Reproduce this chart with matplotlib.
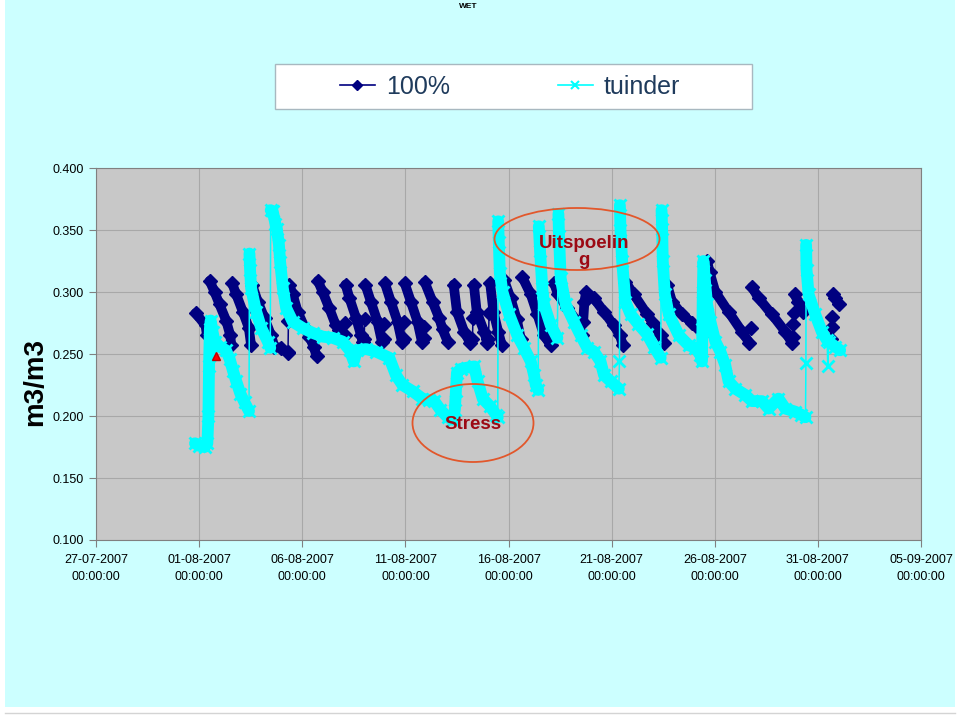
import numpy as np
import pandas as pd
import matplotlib
matplotlib.use("Agg")
import matplotlib.pyplot as plt
from matplotlib.patches import Ellipse, Rectangle
from matplotlib.lines import Line2D
from matplotlib.ticker import FormatStrFormatter
from matplotlib import font_manager

# time as fractional day of August 2007 (1.0 = 01-08-2007 00:00), values in m3/m3
# *_runlen: points per stretch, *_dense: 1 = densely logged stretch, 0 = sparse readings
navy_day = [
    0.83, 1.31, 1.38,
    1.51, 1.75, 1.99, 2.31, 2.51, 2.56,
    2.60, 2.80, 3.12, 3.41, 3.52,
    3.57, 3.85, 4.17, 4.49, 4.65, 4.97, 5.30,
    5.31, 5.33,
    5.36, 5.54, 5.78, 6.10, 6.35, 6.55, 6.70,
    6.76, 6.99, 7.31, 7.63, 7.80,
    8.05, 8.07,
    8.10, 8.29, 8.61, 8.85, 8.93,
    9.00, 9.03,
    9.06, 9.33, 9.65, 9.86,
    9.95, 9.98,
    10.01, 10.30, 10.62, 10.83,
    10.91, 10.94,
    10.97, 11.27, 11.59, 11.80,
    11.88, 11.91,
    11.94, 12.32, 12.64, 12.80, 13.05,
    13.34, 13.50, 13.85, 14.14,
    14.25, 14.28,
    14.32, 14.46, 14.82, 14.98,
    15.03, 15.06,
    15.11, 15.27, 15.50, 15.68,
    15.78, 16.10, 16.40, 16.60,
    16.67, 17.08, 17.40, 17.72, 18.05,
    18.21, 18.40, 18.85, 19.34, 19.58,
    19.62, 19.68, 19.76, 20.14, 20.63, 21.11, 21.40, 21.55,
    21.67, 22.08, 22.72, 23.00, 23.37, 23.53,
    23.69, 23.93, 24.42, 24.90, 25.14, 25.47,
    25.63, 25.75, 26.03, 26.67, 27.32, 27.68,
    27.74,
    27.80, 28.13, 28.77, 29.42, 29.74,
    29.78, 29.80, 29.82,
    29.87, 30.05, 30.30,
    31.66, 31.68, 31.70,
    31.72, 31.85, 32.00,
]
navy_val = [
    0.283, 0.273, 0.265,
    0.309, 0.300, 0.290, 0.277, 0.265, 0.257,
    0.307, 0.298, 0.284, 0.271, 0.257,
    0.306, 0.292, 0.279, 0.265, 0.256, 0.255, 0.251,
    0.252, 0.277,
    0.306, 0.298, 0.284, 0.272, 0.264, 0.256, 0.248,
    0.309, 0.300, 0.287, 0.273, 0.269,
    0.265, 0.275,
    0.306, 0.295, 0.279, 0.265, 0.260,
    0.262, 0.278,
    0.306, 0.292, 0.276, 0.260,
    0.262, 0.274,
    0.307, 0.292, 0.276, 0.260,
    0.262, 0.276,
    0.307, 0.292, 0.276, 0.260,
    0.263, 0.272,
    0.308, 0.292, 0.279, 0.270, 0.260,
    0.306, 0.284, 0.268, 0.259,
    0.262, 0.279,
    0.306, 0.284, 0.268, 0.259,
    0.262, 0.283,
    0.307, 0.284, 0.268, 0.257,
    0.310, 0.295, 0.278, 0.262,
    0.312, 0.298, 0.282, 0.265, 0.257,
    0.307, 0.298, 0.287, 0.276, 0.265,
    0.276, 0.292, 0.300, 0.295, 0.284, 0.273, 0.265, 0.257,
    0.308, 0.298, 0.282, 0.275, 0.265, 0.259,
    0.306, 0.292, 0.282, 0.275, 0.272, 0.267,
    0.325, 0.316, 0.300, 0.284, 0.268, 0.259,
    0.271,
    0.304, 0.295, 0.282, 0.268, 0.259,
    0.264, 0.274, 0.283,
    0.298, 0.292, 0.284,
    0.262, 0.272, 0.280,
    0.298, 0.295, 0.290,
]
navy_runlen = [3, 6, 5, 7, 2, 7, 5, 2, 5, 2, 4, 2, 4, 2, 4, 2, 5, 4, 2, 4, 2,
               4, 4, 5, 5, 8, 6, 6, 6, 1, 5, 3, 3, 3, 3]
navy_dense = [1, 1, 1, 1, 0, 1, 1, 0, 1, 0, 1, 0, 1, 0, 1, 0, 1, 1, 0, 1, 0,
              1, 1, 1, 1, 1, 1, 1, 1, 0, 1, 0, 1, 0, 1]

tuinder_day = [
    0.80, 1.00, 1.27, 1.40, 1.45, 1.48, 1.52, 1.56, 1.65, 1.75,
    2.00, 2.30, 2.48, 2.65, 2.80, 3.00, 3.20, 3.42,
    3.44, 3.47, 3.52, 3.77, 4.01, 4.33, 4.45,
    4.47, 4.57, 4.70, 4.77, 4.87, 4.93, 5.06, 5.22, 5.54, 6.02,
    6.51, 6.99, 7.48, 7.96, 8.30, 8.50, 8.65, 9.09, 9.57, 10.22,
    10.54, 10.86, 11.35, 11.83, 12.15, 12.40, 12.70, 13.05, 13.30, 13.40,
    13.45, 13.50, 13.69, 14.00, 14.34, 14.50, 14.75, 15.10, 15.40, 15.48,
    15.50, 15.53, 15.58, 15.71, 16.03, 16.43, 16.75, 17.08, 17.24, 17.32, 17.44,
    17.47, 17.53, 17.64, 17.72, 18.05, 18.37,
    18.42, 18.45, 18.53, 18.77, 19.17, 19.50, 19.82, 20.14, 20.46, 20.63, 20.95, 21.35,
    21.38,
    21.40, 21.43, 21.51, 21.67, 21.92, 22.30, 22.72, 23.05, 23.38,
    23.42, 23.45, 23.48, 23.58, 23.77, 24.26, 24.74, 25.06, 25.30, 25.38,
    25.40, 25.42, 25.45, 25.52, 25.63, 25.79, 26.03, 26.27, 26.51, 26.67,
    27.00, 27.48, 27.80, 28.29, 28.61, 29.09, 29.42, 29.90, 30.20, 30.40,
    30.42,
    30.43, 30.45, 30.55, 30.87, 31.19, 31.45,
    31.48,
    31.52, 31.84, 32.08,
]
tuinder_val = [
    0.178, 0.176, 0.175, 0.178, 0.200, 0.240, 0.270, 0.277, 0.268, 0.260,
    0.256, 0.253, 0.246, 0.236, 0.228, 0.218, 0.211, 0.204,
    0.331, 0.318, 0.303, 0.284, 0.271, 0.260, 0.255,
    0.366, 0.365, 0.355, 0.351, 0.338, 0.324, 0.303, 0.287, 0.276, 0.271,
    0.267, 0.264, 0.263, 0.260, 0.253, 0.244, 0.253, 0.254, 0.252, 0.247,
    0.233, 0.225, 0.220, 0.214, 0.213, 0.212, 0.205, 0.199, 0.197, 0.205,
    0.220, 0.235, 0.238, 0.239, 0.240, 0.228, 0.214, 0.208, 0.201, 0.199,
    0.357, 0.340, 0.315, 0.300, 0.282, 0.265, 0.255, 0.244, 0.233, 0.225, 0.221,
    0.353, 0.333, 0.303, 0.290, 0.273, 0.263,
    0.363, 0.345, 0.311, 0.290, 0.276, 0.265, 0.255, 0.252, 0.244, 0.233, 0.228, 0.222,
    0.244,
    0.370, 0.350, 0.325, 0.292, 0.282, 0.274, 0.266, 0.256, 0.247,
    0.366, 0.351, 0.325, 0.298, 0.282, 0.265, 0.257, 0.255, 0.249, 0.244,
    0.270, 0.300, 0.325, 0.310, 0.290, 0.276, 0.260, 0.252, 0.241, 0.228,
    0.222, 0.217, 0.212, 0.212, 0.206, 0.214, 0.206, 0.2035, 0.201, 0.199,
    0.2425,
    0.338, 0.318, 0.298, 0.282, 0.268, 0.261,
    0.240,
    0.260, 0.256, 0.253,
]
tuinder_runlen = [18, 7, 40, 11, 6, 12, 1, 9, 30, 1, 6, 1, 3]
tuinder_dense = [1, 1, 1, 1, 1, 1, 0, 1, 1, 0, 1, 0, 1]

red_day = [1.83]
red_val = [0.248]

x_ticks = pd.date_range("2007-07-27", "2007-09-05", freq="5D")

base = pd.Timestamp("2007-07-31")


def to_dates(days):
    return base + pd.to_timedelta(np.asarray(days), unit="D")


def draw_series(ax, days, vals, runlen, dense, color, marker, ms, mew,
                band_lw, connect, z):
    t = to_dates(days)
    v = np.asarray(vals)
    if connect:
        ax.plot(t, v, color=color, lw=1.1, zorder=z)
    start = 0
    for n, d in zip(runlen, dense):
        seg_t, seg_v = t[start:start + n], v[start:start + n]
        if d:
            ax.plot(seg_t, seg_v, color=color, lw=band_lw,
                    solid_capstyle="round", solid_joinstyle="round", zorder=z)
        elif n > 1:
            ax.plot(seg_t, seg_v, color=color, lw=1.1, zorder=z)
        start += n
    ax.plot(t, v, ls="none", marker=marker, ms=ms, color=color, mec=color,
            mew=mew, zorder=z)


names = set(font_manager.get_font_names())
if "Liberation Sans Narrow" in names:
    tick_font, tick_size = "Liberation Sans Narrow", 11
else:
    tick_font, tick_size = "Liberation Sans", 9
plt.rcParams["font.family"] = ["Liberation Sans", "DejaVu Sans"]

W, H = 960, 716
fig = plt.figure(figsize=(W / 100, H / 100), dpi=100)
fig.patch.set_facecolor("#CCFFFF")
for x0, y0, w, h in [(0, 0, 5, H), (955, 0, 5, H), (0, 707, W, 9)]:
    fig.add_artist(Rectangle((x0 / W, 1 - (y0 + h) / H), w / W, h / H,
                             transform=fig.transFigure, facecolor="white",
                             edgecolor="none"))
fig.add_artist(Line2D([5 / W, 955 / W], [1 - 713 / H] * 2,
                      transform=fig.transFigure, color="#D4D4D4", lw=1))

ax = fig.add_axes([96 / W, 1 - 540 / H, 825 / W, 372 / H])
ax.set_facecolor("#C8C8C8")

draw_series(ax, navy_day, navy_val, navy_runlen, navy_dense, "#000080", "D",
            7, 1, 7, False, 3)
draw_series(ax, tuinder_day, tuinder_val, tuinder_runlen, tuinder_dense,
            "#00FFFF", "x", 8, 2, 8.5, True, 4)
ax.plot(to_dates(red_day), red_val, ls="none", marker="^", ms=6,
        color="#FF0000", mec="#C00000", zorder=5)

ax.set_xlim(x_ticks[0], x_ticks[-1])
ax.set_ylim(0.1, 0.4)
ax.set_yticks(np.arange(0.1, 0.401, 0.05))
ax.yaxis.set_major_formatter(FormatStrFormatter("%.3f"))
ax.set_xticks(x_ticks)
ax.set_xticklabels([t.strftime("%d-%m-%Y\n%H:%M:%S") for t in x_ticks],
                   linespacing=1.55)
for lab in ax.get_xticklabels() + ax.get_yticklabels():
    lab.set_fontfamily(tick_font)
    lab.set_fontsize(tick_size)
ax.tick_params(axis="both", direction="out", length=5, color="#808080")
ax.tick_params(axis="x", pad=5)
ax.tick_params(axis="y", pad=4)
ax.grid(True, color="#A8A8A8", lw=0.8)
ax.set_axisbelow(True)
for s in ax.spines.values():
    s.set_color("#808080")

fig.text(35 / W, 1 - 382 / H, "m3/m3", rotation=90, fontsize=20,
         fontweight="bold", ha="center", va="center")
fig.text(468 / W, 1 - 6 / H, "WET", fontsize=6, fontweight="bold",
         ha="center", va="center")

fig.add_artist(Rectangle((275 / W, 1 - 109 / H), 477 / W, 45 / H,
                         transform=fig.transFigure, facecolor="white",
                         edgecolor="#A8B8C0", lw=1))
handles = [
    Line2D([], [], color="#000080", marker="D", ms=5, lw=1.2),
    Line2D([], [], color="#00FFFF", marker="x", ms=6, mew=1.5, lw=1.2),
]
fig.legend(handles, ["100%", "tuinder"], loc="center",
           bbox_to_anchor=(510 / W, 1 - 87 / H), ncol=2, frameon=False,
           fontsize=18, handlelength=1.4, handletextpad=0.45,
           columnspacing=4.3, labelcolor="#1F3B5C")

ann_color = "#9C0A14"
ell_color = "#E2572B"
fig.add_artist(Ellipse((577 / W, 1 - 239 / H), 165 / W, 62 / H,
                       transform=fig.transFigure, fill=False,
                       edgecolor=ell_color, lw=1.3))
fig.add_artist(Ellipse((473 / W, 1 - 423 / H), 121 / W, 78 / H,
                       transform=fig.transFigure, fill=False,
                       edgecolor=ell_color, lw=1.3))
fig.text(584 / W, 1 - 252 / H, "Uitspoelin\ng", fontsize=13.5,
         fontweight="bold", color=ann_color, ha="center", va="center",
         multialignment="center", linespacing=1.05)
fig.text(473 / W, 1 - 424 / H, "Stress", fontsize=13.5, fontweight="bold",
         color=ann_color, ha="center", va="center")

fig.savefig("out.png", dpi=100, facecolor=fig.get_facecolor())
